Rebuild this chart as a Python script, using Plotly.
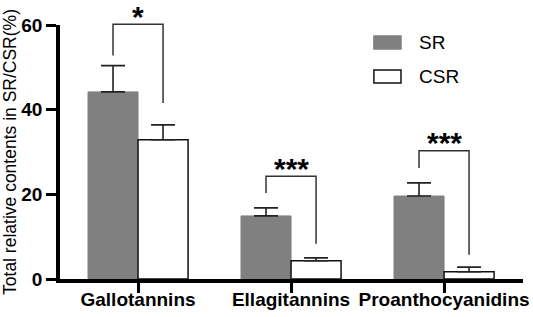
import plotly.graph_objects as go

categories = ["Gallotannins", "Ellagitannins", "Proanthocyanidins"]
sr_values = [44.2, 14.9, 19.6]
sr_errors = [6.2, 1.9, 3.1]
csr_values = [32.9, 4.3, 1.7]
csr_errors = [3.5, 0.7, 1.1]
sig_labels = ["*", "***", "***"]
bracket_top = [60.2, 24.3, 30.3]
bracket_left_end = [52.8, 20.3, 26.2]
bracket_right_end = [41.6, 8.3, 5.7]
y_ticks = [0, 20, 40, 60]

Y_MAX = 60
BARGAP = 0.346
FONT = "Liberation Sans, Arial, sans-serif"

fig = go.Figure()
fig.add_trace(go.Bar(
    name="SR", x=categories, y=sr_values,
    marker=dict(color="#808080", line=dict(color="#808080", width=1)),
    error_y=dict(type="data", array=sr_errors, arrayminus=[0]*3, symmetric=False,
                 color="#222222", thickness=1.6, width=12),
))
fig.add_trace(go.Bar(
    name="CSR", x=categories, y=csr_values,
    marker=dict(color="white", line=dict(color="#111111", width=1.5)),
    error_y=dict(type="data", array=csr_errors, arrayminus=[0]*3, symmetric=False,
                 color="#222222", thickness=1.6, width=12),
))

half = (1 - BARGAP) / 4
shapes = []
annotations = []
for i in range(len(categories)):
    xl, xr = i - half, i + half
    yt = bracket_top[i] / Y_MAX
    yl = bracket_left_end[i] / Y_MAX
    yr = bracket_right_end[i] / Y_MAX
    path = f"M {xl},{yl} L {xl},{yt} L {xr},{yt} L {xr},{yr}"
    shapes.append(dict(type="path", path=path, xref="x", yref="y domain",
                       line=dict(color="#333333", width=1.5)))
    annotations.append(dict(x=i, y=yt, xref="x", yref="y domain", text=sig_labels[i],
                            showarrow=False, yanchor="middle", yshift=8,
                            font=dict(family=FONT, size=30, color="black", weight="bold")))

# legend drawn manually
legend_items = [("SR", "#808080", "#808080", 0.957, 0.906),
                ("CSR", "white", "#111111", 0.823, 0.772)]
for name, fill, lc, y1, y0 in legend_items:
    shapes.append(dict(type="rect", xref="paper", yref="paper", x0=0.678, x1=0.7365,
                       y0=y0, y1=y1, fillcolor=fill, line=dict(color=lc, width=1.5)))
    annotations.append(dict(x=0.771, y=(y0 + y1) / 2, xref="paper", yref="paper", text=name,
                            showarrow=False, xanchor="left", yanchor="middle",
                            font=dict(family=FONT, size=19, color="black")))

fig.update_layout(
    width=533, height=317,
    margin=dict(l=60, r=10, t=25, b=38),
    paper_bgcolor="white", plot_bgcolor="white",
    barmode="group", bargap=BARGAP, bargroupgap=0,
    showlegend=False,
    shapes=shapes, annotations=annotations,
    font=dict(family=FONT, color="black"),
)
fig.update_xaxes(
    range=[-0.51, 2.516], showline=True, linewidth=3.5, linecolor="black",
    ticks="outside", ticklen=10, tickwidth=3, tickcolor="black",
    tickfont=dict(family=FONT, size=19, color="black", weight="bold"),
    ticklabelstandoff=-10,
    showgrid=False, zeroline=False, automargin=False,
)
fig.update_yaxes(
    range=[0, Y_MAX], tickvals=y_ticks, showline=True, linewidth=3.5, linecolor="black",
    ticks="outside", ticklen=10, tickwidth=3, tickcolor="black",
    tickfont=dict(family=FONT, size=19, color="black", weight="bold"),
    showgrid=False, zeroline=False, automargin=False,
    title=dict(text="Total relative contents in SR/CSR(%)", standoff=6,
               font=dict(family=FONT, size=17.5, color="black")),
)
fig.write_html("out.html", config={"displayModeBar": False},
               post_script="document.body.style.margin='0';document.body.style.overflow='hidden';")
